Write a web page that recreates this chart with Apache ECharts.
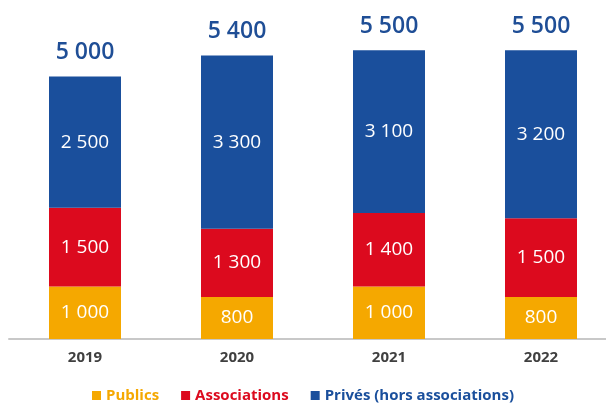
<!DOCTYPE html>
<html>
<head>
<meta charset="utf-8">
<script src="https://cdn.jsdelivr.net/npm/echarts@6/dist/echarts.min.js"></script>
<style>
  html, body { margin: 0; padding: 0; background: #fff; }
  #main { width: 606px; height: 405px; }
</style>
</head>
<body>
<div id="main"></div>
<script>
var years = ['2019', '2020', '2021', '2022'];
var publics = [1000, 800, 1000, 800];
var associations = [1500, 1300, 1400, 1500];
var prives = [2500, 3300, 3100, 3200];
var totals = [5000, 5400, 5500, 5500];

var FONT = '"Open Sans", "Noto Sans", sans-serif';

function fmt(v) {
  return String(v).replace(/\B(?=(\d{3})+(?!\d))/g, ' ');
}

var chart = echarts.init(document.getElementById('main'), null, { renderer: 'canvas' });

function stackSeries(name, data, color) {
  return {
    name: name,
    type: 'bar',
    stack: 'total',
    barWidth: 72,
    data: data,
    itemStyle: { color: color },
    label: {
      show: true,
      position: 'inside',
      color: '#fff',
      fontFamily: FONT,
      fontSize: 19,
      formatter: function (p) { return fmt(p.value); }
    },
    emphasis: { disabled: true }
  };
}

var option = {
  backgroundColor: '#fff',
  animation: false,
  grid: { left: 9, top: 24, right: -11, bottom: 66, outerBoundsMode: 'none', containLabel: false },
  legend: {
    bottom: -3,
    left: 'center',
    itemWidth: 9,
    itemHeight: 9,
    itemGap: 22,
    icon: 'rect',
    textStyle: { fontFamily: FONT, fontSize: 15, fontWeight: 'bold' },
    data: [
      { name: 'Publics', textStyle: { color: '#f5a800' } },
      { name: 'Associations', textStyle: { color: '#dc0a1e' } },
      { name: 'Privés (hors associations)', textStyle: { color: '#1a4f9c' } }
    ]
  },
  xAxis: {
    type: 'category',
    data: years,
    axisLine: { lineStyle: { color: '#c8c8c8', width: 2 } },
    axisTick: { show: false },
    axisLabel: { color: '#404040', fontFamily: FONT, fontSize: 15, fontWeight: 'bold', margin: 11 }
  },
  yAxis: {
    type: 'value',
    min: 0,
    max: 6000,
    show: false,
    splitLine: { show: false }
  },
  series: [
    stackSeries('Publics', publics, '#f5a800'),
    stackSeries('Associations', associations, '#dc0a1e'),
    stackSeries('Privés (hors associations)', prives, '#1a4f9c'),
    {
      name: 'Total',
      type: 'scatter',
      data: totals,
      symbol: 'rect',
      symbolSize: 1,
      itemStyle: { color: 'rgba(255,255,255,0)', opacity: 1 },
      silent: true,
      label: {
        show: true,
        position: 'top',
        distance: 12,
        color: '#1f4e96',
        fontFamily: FONT,
        fontSize: 23,
        fontWeight: 600,
        formatter: function (p) { return fmt(p.value); }
      }
    }
  ]
};

chart.setOption(option);
</script>
</body>
</html>
